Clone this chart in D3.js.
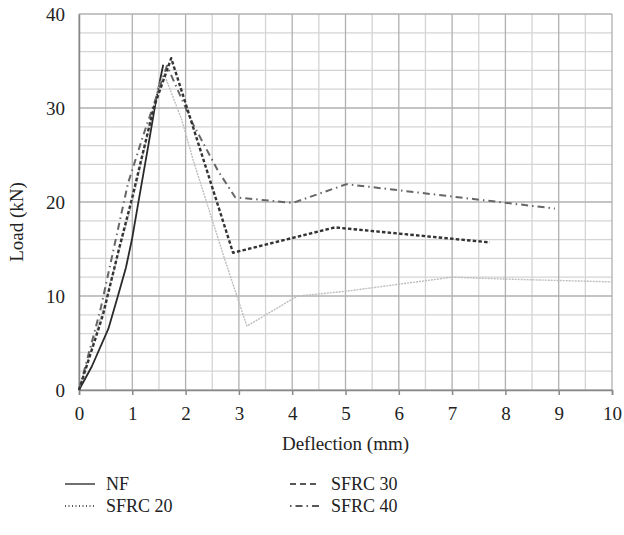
<!DOCTYPE html>
<html>
<head>
<meta charset="utf-8">
<script src="https://cdn.jsdelivr.net/npm/d3@7"></script>
<style>
  body { margin: 0; background: #fff; }
  svg text { font-family: "Liberation Serif", "Times New Roman", serif; fill: #222; }
</style>
</head>
<body>
<script>
// load-deflection data
var nfX = [0, 0.24, 0.55, 0.73, 0.88, 1.0, 1.1, 1.3, 1.45, 1.58];
var nfY = [0, 2.5, 6.5, 10, 13, 16.2, 19.5, 26, 31, 34.6];

var s20X = [0, 0.5, 1.0, 1.5, 1.6, 1.93, 2.14, 2.74, 3.15, 4.1, 5.0, 7.0, 8.0, 10.0];
var s20Y = [0, 9.5, 20, 32.5, 33.6, 28.7, 24.5, 13.8, 6.8, 10, 10.5, 12, 11.8, 11.5];

var s30X = [0, 0.45, 0.75, 1.0, 1.4, 1.73, 2.89, 4.8, 7.71];
var s30Y = [0, 8, 15, 20.5, 30, 35.3, 14.6, 17.3, 15.7];

var s40X = [0, 0.4, 0.92, 1.2, 1.65, 2.12, 2.6, 2.93, 4.01, 5.02, 8.93];
var s40Y = [0, 8.5, 22, 27, 34.5, 28.5, 23.4, 20.5, 19.9, 21.9, 19.3];

var xTicks = [0, 1, 2, 3, 4, 5, 6, 7, 8, 9, 10];
var yTicks = [0, 10, 20, 30, 40];

var w = 624, h = 535;
var plotL = 79, plotR = 612, plotT = 14, plotB = 390;

var svg = d3.select("body").append("svg")
  .attr("width", w)
  .attr("height", h);

var x = d3.scaleLinear().domain([0, 10]).range([plotL, plotR]);
var y = d3.scaleLinear().domain([0, 40]).range([plotB, plotT]);

//grid, minor first then major
var g = svg.append("g");
d3.range(0.5, 10, 1).forEach(function(v) {
  g.append("line").attr("x1", x(v)).attr("x2", x(v))
    .attr("y1", y(0)).attr("y2", y(40))
    .attr("stroke", "#d4d4d4").attr("stroke-width", 1.3);
});
d3.range(2, 40, 2).forEach(function(v) {
  if (v % 10 == 0) return;
  g.append("line").attr("x1", x(0)).attr("x2", x(10))
    .attr("y1", y(v)).attr("y2", y(v))
    .attr("stroke", "#d4d4d4").attr("stroke-width", 1.3);
});
xTicks.forEach(function(v) {
  g.append("line").attr("x1", x(v)).attr("x2", x(v))
    .attr("y1", y(0)).attr("y2", y(40))
    .attr("stroke", "#b0b0b0").attr("stroke-width", 1.3);
});
yTicks.forEach(function(v) {
  g.append("line").attr("x1", x(0)).attr("x2", x(10))
    .attr("y1", y(v)).attr("y2", y(v))
    .attr("stroke", "#b0b0b0").attr("stroke-width", 1.3);
});

//axes
var xAxis = svg.append("g")
  .attr("transform", "translate(0," + y(0) + ")")
  .call(d3.axisBottom(x).tickValues(xTicks).tickSize(5).tickPadding(12).tickFormat(d3.format("d")));
var yAxis = svg.append("g")
  .attr("transform", "translate(" + x(0) + ",0)")
  .call(d3.axisLeft(y).tickValues(yTicks).tickSize(0).tickPadding(14).tickFormat(d3.format("d")));
[xAxis, yAxis].forEach(function(a) {
  a.attr("font-family", null).attr("font-size", null);
  a.select(".domain").attr("stroke", "#888").attr("stroke-width", 1.5);
  a.selectAll(".tick line").attr("stroke", "#888").attr("stroke-width", 1.5);
  a.selectAll("text").style("font-size", "19px").attr("fill", "#222");
});

svg.append("text")
  .attr("x", x(5)).attr("y", 450)
  .attr("text-anchor", "middle")
  .style("font-size", "19px")
  .text("Deflection (mm)");
svg.append("text")
  .attr("transform", "translate(23,222) rotate(-90)")
  .attr("text-anchor", "middle")
  .style("font-size", "19px")
  .text("Load (kN)");

//series
var series = [
  { name: "NF", xs: nfX, ys: nfY, color: "#2a2a2a", width: 1.8, dash: null },
  { name: "SFRC 20", xs: s20X, ys: s20Y, color: "#bdbdbd", width: 1.4, dash: "2,1" },
  { name: "SFRC 40", xs: s40X, ys: s40Y, color: "#666", width: 2, dash: "7,4,1.5,4" },
  { name: "SFRC 30", xs: s30X, ys: s30Y, color: "#333", width: 2.4, dash: "3.5,2.2" }
];

var line = d3.line()
  .x(function(d) { return x(d[0]); })
  .y(function(d) { return y(d[1]); });

series.forEach(function(s) {
  svg.append("path")
    .datum(d3.zip(s.xs, s.ys))
    .attr("d", line)
    .attr("fill", "none")
    .attr("stroke", s.color)
    .attr("stroke-width", s.width)
    .attr("stroke-dasharray", s.dash)
    .attr("stroke-linejoin", "round");
});

//legend
var legendItems = [
  { name: "NF", col: 0, row: 0, dash: null },
  { name: "SFRC 20", col: 0, row: 1, dash: "1,2.5" },
  { name: "SFRC 30", col: 1, row: 0, dash: "6,4" },
  { name: "SFRC 40", col: 1, row: 1, dash: "1.5,4,7,4" }
];
var legend = svg.append("g");
legendItems.forEach(function(d) {
  var lx = 65 + d.col * 225;
  var ly = 484 + d.row * 22;
  legend.append("line")
    .attr("x1", lx).attr("x2", lx + 30)
    .attr("y1", ly).attr("y2", ly)
    .attr("stroke", "#222").attr("stroke-width", 1.3)
    .attr("stroke-dasharray", d.dash);
  legend.append("text")
    .attr("x", lx + 41).attr("y", ly + 6)
    .style("font-size", "18px")
    .text(d.name);
});
</script>
</body>
</html>
